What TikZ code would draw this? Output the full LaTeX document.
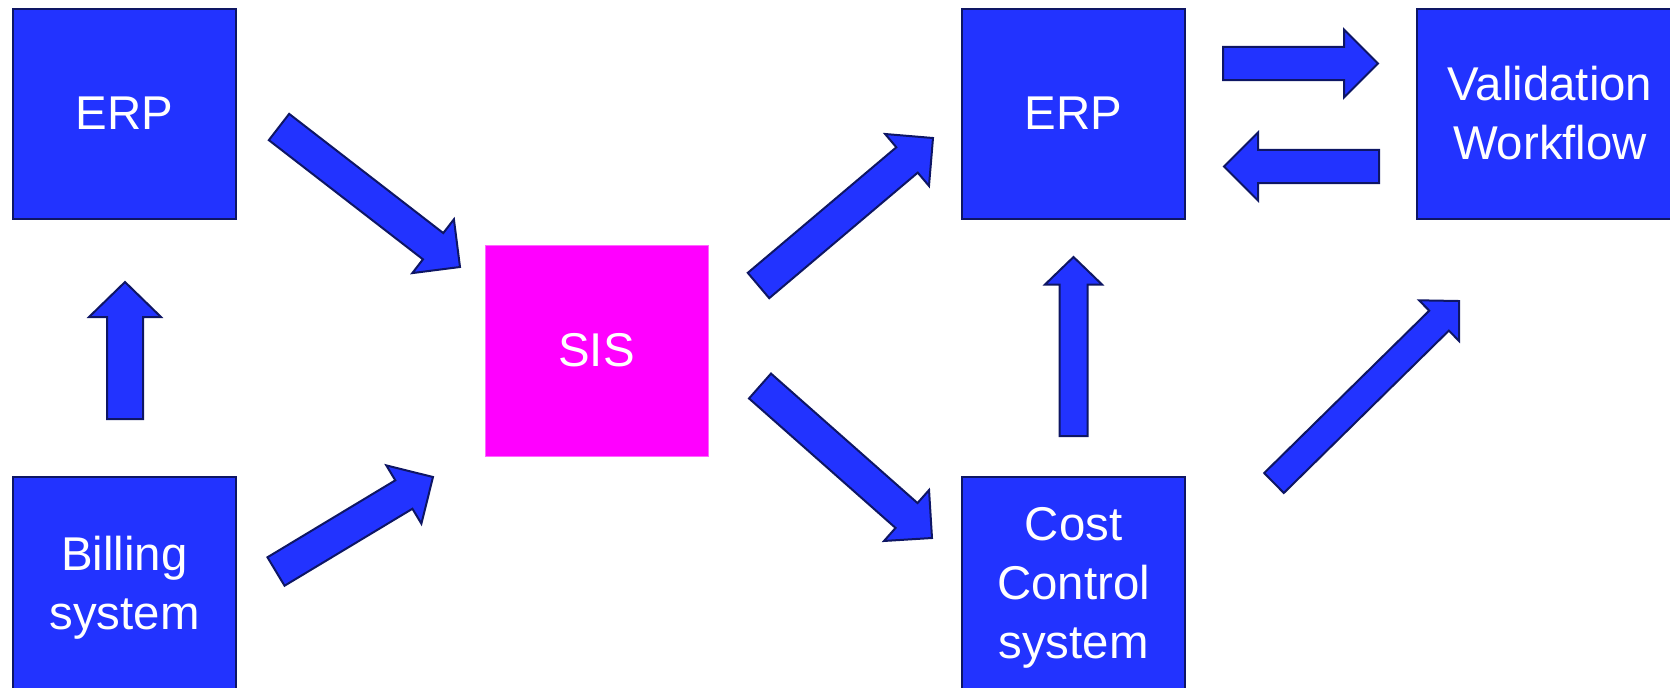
\documentclass[tikz,border=0pt]{standalone}
\usepackage{fontspec}
\setmainfont{Liberation Sans}
\usetikzlibrary{calc}
\definecolor{boxblue}{RGB}{34,51,255}
\definecolor{edgeblue}{RGB}{14,22,100}
\definecolor{sismag}{RGB}{255,0,255}
\tikzset{
  box/.style={rectangle, fill=boxblue, draw=edgeblue, line width=1pt,
    minimum width=111.5pt, minimum height=105pt, inner sep=0pt},
  sisbox/.style={rectangle, fill=sismag, draw=sismag!60!white, line width=0.5pt,
    minimum width=111.5pt, minimum height=105.5pt, inner sep=0pt},
  lbl/.style={text=white, align=center, inner sep=0pt, text depth=0pt,
    font=\fontsize{23.7pt}{29.5pt}\selectfont},
  barrowstyle/.style={fill=boxblue, draw=edgeblue, line width=1pt, line join=miter},
}
% #1 tail, #2 tip, #3 half shaft width, #4 half head width, #5 head length
\newcommand\blockarrow[5]{%
  \coordinate (ba-base) at ($(#2)!#5!(#1)$);
  \draw[barrowstyle] ($(#1)!#3!90:(#2)$) -- ($(ba-base)!#3!90:(#2)$)
    -- ($(ba-base)!#4!90:(#2)$) -- (#2) -- ($(ba-base)!#4!-90:(#2)$)
    -- ($(ba-base)!#3!-90:(#2)$) -- ($(#1)!#3!-90:(#2)$) -- cycle;
}
\begin{document}
\begin{tikzpicture}[x=0.5pt, y=-0.5pt]
\useasboundingbox (0,0) rectangle (1670,687);
\clip (0,0) rectangle (1670,687);

% boxes
\node[box] (erpL) at (124.5,114) {};
\node[box, minimum height=107pt] (bill) at (124.5,584) {};
\node[sisbox] (sis) at (596.5,350.5) {};
\node[box] (erpR) at (1073.5,114) {};
\node[box, minimum height=107pt] (cost) at (1073.5,584) {};
\node[box, minimum width=133pt] (valid) at (1550,114) {};

% labels
\node[lbl] (erpL-t) at (124.5,113) {ERP};
\node[lbl] (bill-t) at (124.5,582.5) {Billing\\system};
\node[lbl] (sis-t) at (596.5,350) {SIS};
\node[lbl] (erpR-t) at (1073.5,113) {ERP};
\node[lbl] (cost-t) at (1073.5,582.5) {Cost\\Control\\system};
\node[lbl] (valid-t) at (1550,112.5) {Validation\\Workflow};

% connector end points
\coordinate (a1s) at (125,419);   \coordinate (a1e) at (125,282);
\coordinate (a2s) at (279,127);   \coordinate (a2e) at (460,267);
\coordinate (a3s) at (276,571.5); \coordinate (a3e) at (433,477);
\coordinate (a4s) at (758.5,285.5); \coordinate (a4e) at (933,138);
\coordinate (a5s) at (760,386);   \coordinate (a5e) at (932,538);
\coordinate (a6s) at (1073.5,436); \coordinate (a6e) at (1073.5,257);
\coordinate (a7s) at (1223,63.5); \coordinate (a7e) at (1378,63.5);
\coordinate (a8s) at (1379,166.5); \coordinate (a8e) at (1224,166.5);
\coordinate (a9s) at (1274,483);  \coordinate (a9e) at (1459,301);

% block arrows
\blockarrow{a1s}{a1e}{9pt}{18pt}{17.5pt}
\blockarrow{a2s}{a2e}{8.3pt}{17pt}{17pt}
\blockarrow{a3s}{a3e}{8.3pt}{17pt}{17pt}
\blockarrow{a4s}{a4e}{8.3pt}{17pt}{17pt}
\blockarrow{a5s}{a5e}{8.3pt}{17pt}{17pt}
\blockarrow{a6s}{a6e}{7pt}{14.25pt}{13.75pt}
\blockarrow{a7s}{a7e}{8.3pt}{17pt}{17pt}
\blockarrow{a8s}{a8e}{8.3pt}{17pt}{17pt}
\blockarrow{a9s}{a9e}{7pt}{14.25pt}{14pt}
\end{tikzpicture}
\end{document}
